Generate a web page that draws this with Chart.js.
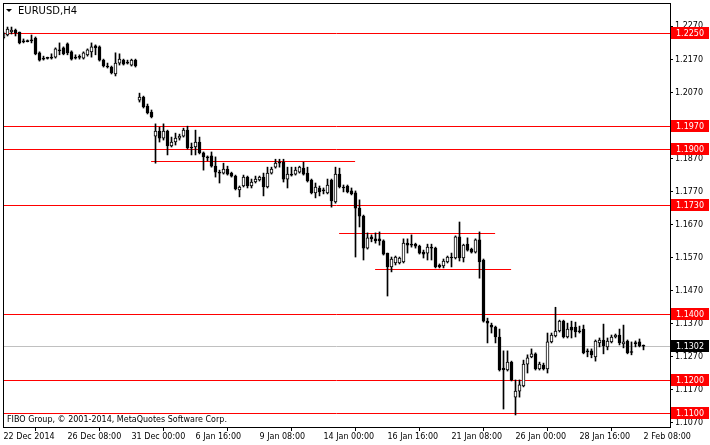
<!DOCTYPE html>
<html>
<head>
<meta charset="utf-8">
<script src="https://cdn.jsdelivr.net/npm/chart.js@4.4.1/dist/chart.umd.min.js"></script>
<style>
  html, body { margin: 0; padding: 0; background: #fff; }
</style>
</head>
<body>
<canvas id="myChart" width="710" height="445"></canvas>
<script>
// EURUSD H4 candles (one entry per bar)
const opens = [1.2235,1.2244,1.2253,1.2259,1.2253,1.2226,1.2226,1.2226,1.2235,1.2190,
  1.2174,1.2175,1.2174,1.2177,1.2199,1.2205,1.2217,1.2193,1.2177,1.2176,
  1.2174,1.2184,1.2193,1.2211,1.2208,1.2168,1.2150,1.2147,1.2126,1.2159,
  1.2168,1.2162,1.2153,1.2168,1.2047,1.2056,1.2029,1.2011,1.1938,1.1953,
  1.1932,1.1953,1.1908,1.1920,1.1932,1.1938,1.1956,1.1905,1.1905,1.1920,
  1.1887,1.1875,1.1878,1.1847,1.1829,1.1826,1.1838,1.1826,1.1817,1.1775,
  1.1787,1.1814,1.1787,1.1799,1.1805,1.1814,1.1784,1.1826,1.1844,1.1859,
  1.1859,1.1808,1.1823,1.1823,1.1829,1.1841,1.1826,1.1805,1.1766,1.1781,
  1.1775,1.1766,1.1805,1.1739,1.1823,1.1784,1.1787,1.1772,1.1766,1.1720,
  1.1696,1.1599,1.1633,1.1627,1.1627,1.1621,1.1584,1.1542,1.1554,1.1554,
  1.1557,1.1614,1.1611,1.1611,1.1605,1.1587,1.1584,1.1602,1.1599,1.1548,
  1.1545,1.1557,1.1572,1.1569,1.1633,1.1569,1.1611,1.1596,1.1587,1.1624,
  1.1563,1.1378,1.1366,1.1360,1.1330,1.1236,1.1230,1.1254,1.1148,1.1166,
  1.1182,1.1248,1.1270,1.1279,1.1233,1.1245,1.1233,1.1315,1.1333,1.1348,
  1.1378,1.1330,1.1360,1.1360,1.1348,1.1354,1.1288,1.1288,1.1270,1.1312,
  1.1321,1.1300,1.1315,1.1330,1.1336,1.1309,1.1318,1.1285,1.1312,1.1315,
  1.1303];
const highs = [1.2253,1.2268,1.2268,1.2262,1.2253,1.2232,1.2229,1.2244,1.2238,1.2193,
  1.2180,1.2177,1.2187,1.2205,1.2220,1.2208,1.2220,1.2196,1.2184,1.2184,
  1.2193,1.2202,1.2220,1.2214,1.2211,1.2171,1.2159,1.2150,1.2190,1.2187,
  1.2171,1.2168,1.2171,1.2171,1.2068,1.2059,1.2035,1.2017,1.1975,1.1965,
  1.1975,1.1956,1.1935,1.1947,1.1944,1.1962,1.1968,1.1917,1.1956,1.1935,
  1.1890,1.1878,1.1890,1.1875,1.1835,1.1856,1.1847,1.1829,1.1820,1.1787,
  1.1820,1.1817,1.1808,1.1817,1.1817,1.1826,1.1844,1.1844,1.1868,1.1868,
  1.1868,1.1844,1.1844,1.1844,1.1847,1.1859,1.1844,1.1808,1.1796,1.1787,
  1.1781,1.1808,1.1808,1.1844,1.1841,1.1790,1.1790,1.1781,1.1772,1.1745,
  1.1699,1.1645,1.1639,1.1645,1.1648,1.1624,1.1584,1.1572,1.1575,1.1572,
  1.1627,1.1627,1.1639,1.1614,1.1608,1.1593,1.1611,1.1611,1.1602,1.1551,
  1.1566,1.1575,1.1584,1.1636,1.1678,1.1611,1.1630,1.1599,1.1627,1.1648,
  1.1566,1.1387,1.1372,1.1363,1.1354,1.1288,1.1288,1.1257,1.1200,1.1200,
  1.1260,1.1276,1.1294,1.1282,1.1254,1.1251,1.1342,1.1342,1.1420,1.1381,
  1.1381,1.1372,1.1378,1.1375,1.1363,1.1366,1.1294,1.1294,1.1321,1.1327,
  1.1369,1.1327,1.1336,1.1339,1.1354,1.1366,1.1321,1.1315,1.1318,1.1324,
  1.1306];
const lows = [1.2232,1.2241,1.2247,1.2241,1.2217,1.2220,1.2223,1.2220,1.2184,1.2165,
  1.2168,1.2171,1.2171,1.2174,1.2184,1.2184,1.2184,1.2168,1.2171,1.2171,
  1.2171,1.2180,1.2177,1.2184,1.2165,1.2147,1.2144,1.2126,1.2120,1.2153,
  1.2153,1.2156,1.2150,1.2147,1.2041,1.2023,1.2005,1.1993,1.1856,1.1920,
  1.1926,1.1881,1.1905,1.1911,1.1926,1.1935,1.1899,1.1881,1.1881,1.1884,
  1.1835,1.1863,1.1844,1.1814,1.1796,1.1823,1.1820,1.1814,1.1775,1.1754,
  1.1784,1.1781,1.1781,1.1796,1.1802,1.1757,1.1781,1.1823,1.1841,1.1844,
  1.1799,1.1781,1.1817,1.1820,1.1826,1.1820,1.1799,1.1763,1.1751,1.1757,
  1.1763,1.1763,1.1723,1.1735,1.1781,1.1769,1.1766,1.1760,1.1572,1.1663,
  1.1563,1.1596,1.1618,1.1614,1.1608,1.1578,1.1454,1.1527,1.1548,1.1551,
  1.1554,1.1584,1.1602,1.1599,1.1581,1.1569,1.1563,1.1563,1.1539,1.1539,
  1.1539,1.1554,1.1542,1.1566,1.1560,1.1557,1.1590,1.1584,1.1584,1.1508,
  1.1375,1.1312,1.1342,1.1312,1.1227,1.1112,1.1227,1.1197,1.1094,1.1148,
  1.1179,1.1221,1.1267,1.1230,1.1230,1.1230,1.1221,1.1312,1.1330,1.1345,
  1.1327,1.1327,1.1327,1.1330,1.1342,1.1279,1.1270,1.1267,1.1257,1.1300,
  1.1279,1.1291,1.1312,1.1327,1.1306,1.1297,1.1279,1.1276,1.1300,1.1300,
  1.1291];
const closes = [1.2250,1.2262,1.2259,1.2250,1.2220,1.2223,1.2224,1.2229,1.2187,1.2168,
  1.2171,1.2173,1.2177,1.2202,1.2196,1.2187,1.2190,1.2171,1.2174,1.2178,
  1.2190,1.2199,1.2208,1.2205,1.2168,1.2150,1.2147,1.2129,1.2159,1.2171,
  1.2156,1.2159,1.2168,1.2150,1.2056,1.2026,1.2008,1.1996,1.1953,1.1932,
  1.1953,1.1908,1.1920,1.1932,1.1938,1.1956,1.1902,1.1902,1.1920,1.1887,
  1.1875,1.1872,1.1847,1.1829,1.1826,1.1838,1.1823,1.1817,1.1778,1.1784,
  1.1814,1.1787,1.1799,1.1808,1.1814,1.1784,1.1826,1.1838,1.1856,1.1856,
  1.1808,1.1823,1.1820,1.1835,1.1844,1.1823,1.1802,1.1766,1.1784,1.1769,
  1.1772,1.1790,1.1742,1.1823,1.1784,1.1781,1.1769,1.1763,1.1720,1.1696,
  1.1599,1.1630,1.1627,1.1621,1.1621,1.1581,1.1542,1.1566,1.1572,1.1569,
  1.1614,1.1608,1.1608,1.1605,1.1584,1.1581,1.1602,1.1599,1.1542,1.1542,
  1.1560,1.1572,1.1569,1.1633,1.1569,1.1608,1.1593,1.1587,1.1624,1.1557,
  1.1378,1.1372,1.1360,1.1330,1.1230,1.1230,1.1254,1.1200,1.1166,1.1185,
  1.1248,1.1267,1.1279,1.1233,1.1248,1.1233,1.1315,1.1336,1.1348,1.1378,
  1.1330,1.1354,1.1351,1.1345,1.1346,1.1282,1.1285,1.1276,1.1318,1.1321,
  1.1303,1.1318,1.1330,1.1336,1.1312,1.1315,1.1282,1.1283,1.1310,1.1303,
  1.1302];

// time axis: labelled bars
const timeTickBars = [0, 16, 32, 48, 64, 80, 96, 112, 128, 144, 160];
const timeLabels = ['22 Dec 2014', '26 Dec 08:00', '31 Dec 00:00', '6 Jan 16:00', '9 Jan 08:00',
  '14 Jan 00:00', '16 Jan 16:00', '21 Jan 08:00', '26 Jan 00:00', '28 Jan 16:00', '2 Feb 08:00'];

// price axis
const priceTicks = [1.1070, 1.1170, 1.1270, 1.1370, 1.1470, 1.1570, 1.1670, 1.1770,
  1.1870, 1.1970, 1.2070, 1.2170, 1.2270];

// horizontal levels drawn on the chart
const levels = [1.2250, 1.1970, 1.1900, 1.1730, 1.1400, 1.1200, 1.1100];
const segPrice = [1.1862, 1.1644, 1.1535];
const segFrom = [36.9, 83.9, 92.9];
const segTo = [87.9, 122.9, 126.9];
const lastPrice = 1.1302;

const FONT = '"DejaVu Sans", sans-serif';

const wickData = lows.map((l, i) => ({ x: i, y: [l, highs[i]] }));
const bodyData = opens.map((o, i) => ({ x: i, y: [Math.min(o, closes[i]), Math.max(o, closes[i])] }));
const bodyColors = opens.map((o, i) => (closes[i] - o >= 0.0004 ? '#ffffff' : '#000000'));

function hline(ctx, x1, x2, y) {
  ctx.beginPath();
  ctx.moveTo(x1, y);
  ctx.lineTo(x2, y);
  ctx.stroke();
}

const overlay = {
  id: 'overlay',
  beforeDatasetsDraw(chart) {
    const { ctx, chartArea: a, scales: { x, y } } = chart;
    ctx.save();
    ctx.lineWidth = 1;
    ctx.strokeStyle = '#c0c0c0';
    hline(ctx, a.left, a.right, Math.round(y.getPixelForValue(lastPrice)) + 0.5);
    ctx.strokeStyle = '#ff0000';
    levels.forEach(v => hline(ctx, a.left, a.right, Math.round(y.getPixelForValue(v)) + 0.5));
    segPrice.forEach((v, i) => {
      hline(ctx, x.getPixelForValue(segFrom[i]), x.getPixelForValue(segTo[i]),
        Math.round(y.getPixelForValue(v)) + 0.5);
    });
    ctx.restore();
  },
  afterDraw(chart) {
    const { ctx, chartArea: a, scales: { y } } = chart;
    ctx.save();
    // frame
    ctx.strokeStyle = '#000';
    ctx.lineWidth = 1;
    ctx.strokeRect(a.left + 0.5, a.top + 0.5, a.right - a.left, a.bottom - a.top);
    // symbol caption
    ctx.fillStyle = '#000';
    ctx.beginPath();
    ctx.moveTo(6, 9); ctx.lineTo(12, 9); ctx.lineTo(9, 12); ctx.closePath();
    ctx.fill();
    ctx.font = '10px ' + FONT;
    ctx.textBaseline = 'middle';
    ctx.fillText('EURUSD,H4', 18, 11);
    ctx.font = '8px ' + FONT;
    ctx.fillText('FIBO Group, \u00a9 2001-2014, MetaQuotes Software Corp.', 7, 420);
    // price labels on the right
    const tag = (v, bg) => {
      const py = Math.round(y.getPixelForValue(v));
      ctx.fillStyle = bg;
      ctx.fillRect(a.right + 1, py - 6, 38, 12);
      ctx.fillStyle = '#fff';
      ctx.fillText(v.toFixed(4), a.right + 6, py + 0.5);
    };
    levels.forEach(v => tag(v, '#ff0000'));
    tag(lastPrice, '#000000');
    ctx.restore();
  }
};

const ctx = document.getElementById('myChart').getContext('2d');
const myChart = new Chart(ctx, {
  type: 'bar',
  data: {
    datasets: [
      {
        label: 'wick',
        data: wickData,
        backgroundColor: '#000',
        barThickness: 1,
        grouped: false,
        order: 2
      },
      {
        label: 'body',
        data: bodyData,
        backgroundColor: bodyColors,
        borderColor: '#000',
        borderWidth: 1,
        borderSkipped: false,
        barThickness: 3,
        minBarLength: 1,
        grouped: false,
        order: 1
      }
    ]
  },
  options: {
    responsive: false,
    animation: false,
    devicePixelRatio: 1,
    layout: { padding: { left: 3, top: 3, right: 0, bottom: 0 } },
    plugins: { legend: { display: false }, tooltip: { enabled: false } },
    scales: {
      x: {
        type: 'linear',
        offset: false,
        min: -0.125,
        max: 166.625,
        afterFit: s => { s.height = 18; s.paddingLeft = 0; s.paddingRight = 0; },
        afterBuildTicks: s => { s.ticks = timeTickBars.map(v => ({ value: v })); },
        grid: { display: true, drawOnChartArea: false, drawTicks: true, tickLength: 4, color: '#000' },
        border: { display: false },
        ticks: {
          autoSkip: false,
          maxRotation: 0,
          align: 'start',
          padding: 1,
          color: '#000',
          font: { family: FONT, size: 8 },
          callback: v => timeLabels[timeTickBars.indexOf(v)]
        }
      },
      y: {
        position: 'right',
        min: 1.10576,
        max: 1.23408,
        afterFit: s => { s.width = 40; s.paddingTop = 0; s.paddingBottom = 0; },
        afterBuildTicks: s => { s.ticks = priceTicks.map(v => ({ value: v })); },
        grid: { display: true, drawOnChartArea: false, drawTicks: true, tickLength: 3, color: '#000' },
        border: { display: false },
        ticks: {
          padding: 2,
          color: '#000',
          font: { family: FONT, size: 8 },
          callback: v => v.toFixed(4)
        }
      }
    }
  },
  plugins: [overlay]
});
</script>
</body>
</html>
